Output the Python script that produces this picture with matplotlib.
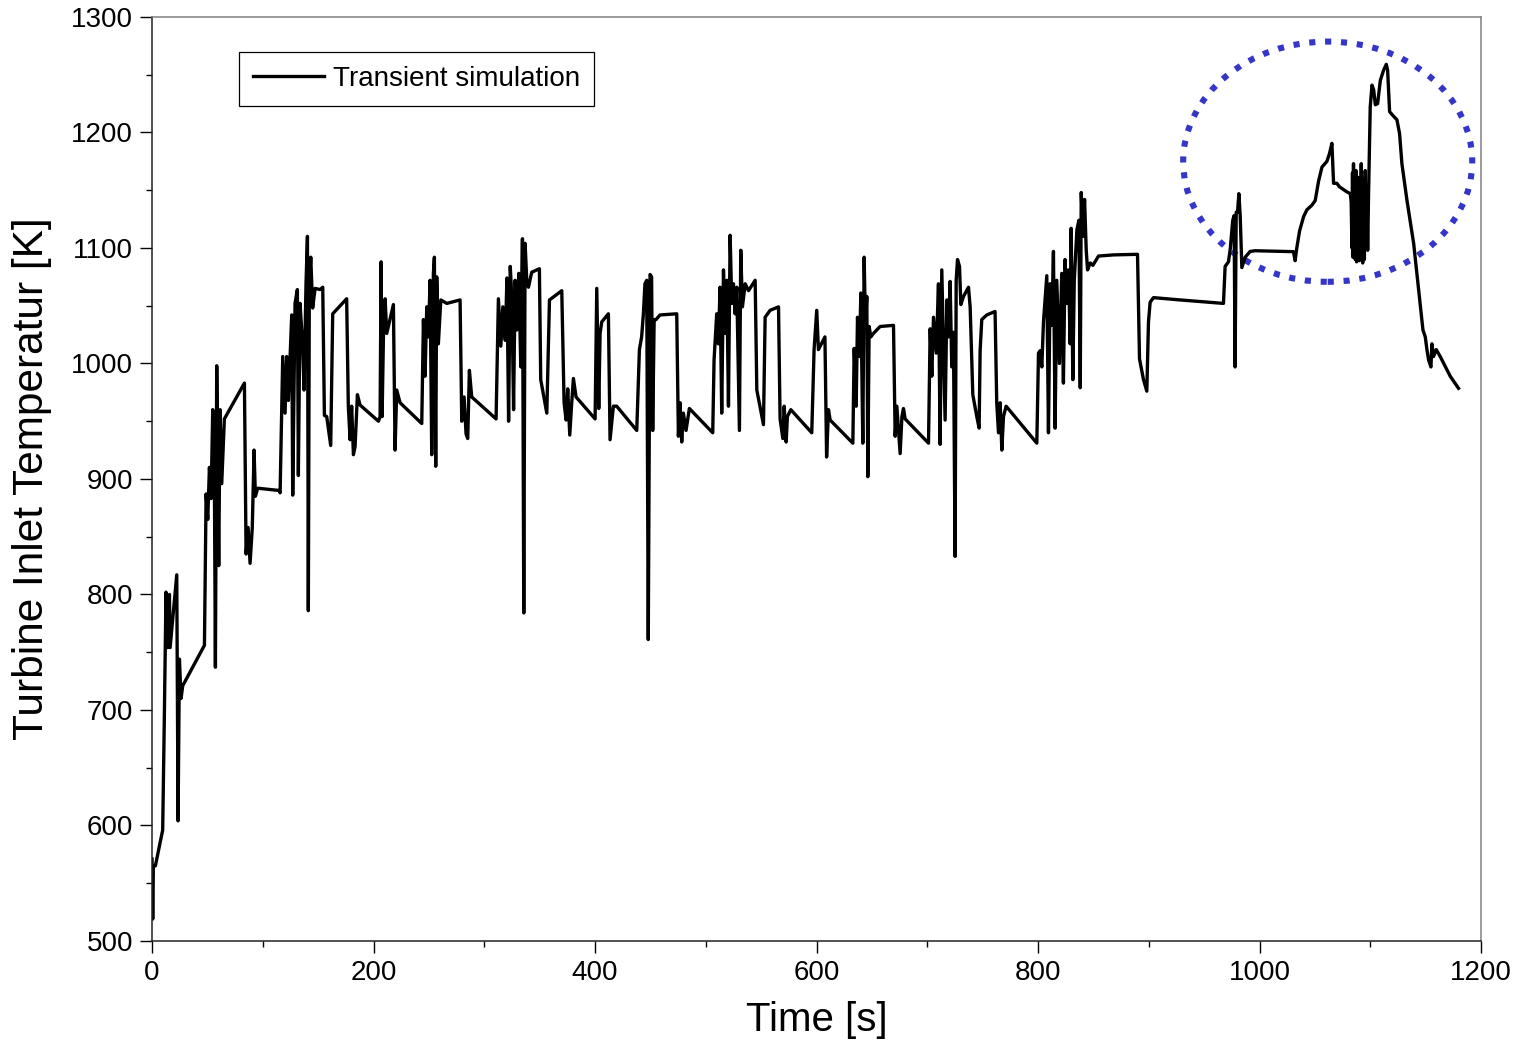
import matplotlib
matplotlib.use("Agg")
import matplotlib.pyplot as plt
from matplotlib.patches import Ellipse

plt.rcParams['font.family'] = ['Liberation Sans', 'DejaVu Sans']

# time [s] / turbine inlet temperature [K]
time_s = [
    0, 0.6, 1.2, 3, 9.6, 11, 12.6, 14, 15.7, 16.3, 22.3, 23.5, 24.7, 26.2, 27.7,
    47.3, 48.8, 50.3, 51.8, 53.3, 54.8, 56.3, 57.2, 58.4, 60.2, 61.4, 62.9, 65.3,
    83.4, 84.9, 86.7, 88.5, 90.5, 92.1, 93.3, 95.4, 115,
    115.6, 118, 120.1, 121.6, 123.1, 126.1, 127, 129.1, 131.2, 132.1, 133.6, 136,
    137.2, 139, 140.3, 141.1, 142, 143.3, 145, 147.2, 151.7, 154.1, 155.6, 157.7,
    161.3, 163.1, 175.7, 177.2, 178.8, 180.2, 181.8, 183.3, 185.4, 187.8, 204.4,
    205.9, 206.8, 207.7, 208.9, 210.4, 211.9, 217.9, 219.4, 220.9, 223.9, 243.5,
    245, 246.5, 248, 249.5, 251, 252.5, 254, 254.9, 256.1, 257, 258.5, 260.7,
    266.1, 278.1, 279.6, 281.7, 283.5, 285, 286.5, 288.6, 310.6, 312.7, 314.9,
    316.7, 318.9, 320.4, 321.9, 323.4, 324.9, 326.4, 327.8, 329.3, 331.1, 332.9,
    334.4, 335.6, 336.8, 338.3, 339.8,
    342.8, 349.7, 350.9, 356.4, 358.8, 369.9, 372, 373.8, 375.3, 377.1, 378.9,
    380.4, 382.8, 400, 401.5, 403.3, 404.5, 406, 412, 413.5, 416.5, 419.5, 437.6,
    440, 442, 443.6, 445, 446.6, 448, 449.6, 451, 452, 453.3, 455, 458.6, 473.7,
    475.2, 476.7, 478.2, 479.7, 482.1, 485.1, 506.2, 507.4, 509.8, 511.3, 512.8,
    514.3, 515.9, 517.4, 518.9, 520.4, 521.9, 523.4, 524.9, 526.4, 527.9, 530.3,
    531.5, 533, 535.5, 538.5,
    544.5, 546, 552, 553.5, 558, 565.6, 567, 569.5, 570.7, 572.5, 573.6, 576.7,
    595.6, 597.7, 600.1, 601.6, 607.5, 609, 610.7, 612.2, 632.7, 633.9, 635.7,
    636.9, 638.7, 639.9, 641.7, 642.9, 644.1, 645.3, 646.2, 647.4, 648.9, 651.3,
    657.3, 669.4, 670.9, 672.4, 673.9, 675.4, 677, 678.4, 679.9, 701,
    702.5, 704, 705.5, 708, 710, 711.5, 713, 714.5, 716, 717.6, 719, 720.5, 722,
    723.5, 725, 726, 727.2, 729, 730.2, 732.6, 737.1, 738.6, 741, 744.6, 746.7,
    747.6, 749.1, 753.6, 761.1, 762.6, 764.2, 765.7, 767.2, 768.7, 771.1, 798.8,
    800.3, 801.8, 803.3, 804.8, 807.8, 809.3, 810.8, 812.3, 813.8, 815.3, 816.8,
    819.2, 821.3, 822.8, 824.3, 825.8, 827.4, 828.9, 829.8, 831.3, 832.6, 835,
    836.8, 838, 838.9, 840.4, 841.9, 843.4, 844.6, 847, 849.4, 854.5, 868, 889.7,
    891.5, 895.1, 898.1, 899.6, 901.1, 904.1, 928.2,
    967.3, 968.8, 971.8, 973.3, 975.7, 976.9, 977.8, 978.8, 980, 981.2, 982.4,
    983.9, 986.9, 991.4, 995.9, 1030.5, 1032, 1033.5, 1036, 1039.6, 1042.6,
    1047.1, 1050.1, 1053.2, 1056.2, 1060.7, 1063.1, 1065.2, 1066.7, 1069.7,
    1072, 1075, 1078, 1081.8, 1082.6, 1083.3, 1083.8, 1084.2, 1084.7, 1085.1,
    1085.7, 1086.3, 1086.9, 1087.5, 1088.1, 1088.7, 1089.3, 1089.9, 1090.5,
    1091.1, 1091.7, 1092.3, 1093, 1093.8, 1094.5, 1095.3, 1096, 1096.8, 1097.5,
    1098.3, 1099.8, 1101.4, 1102.9, 1104.4,
    1106.5, 1108.9, 1111.9, 1114.3, 1115.5, 1117.3, 1120.9, 1123.9, 1126.3,
    1128.4, 1133, 1139, 1143.5, 1147.4, 1149.5, 1151, 1152.5, 1154.6, 1155.5,
    1157, 1159.4, 1163, 1172, 1179.5,
]
tit_K = [
    571, 519, 565, 565, 596, 687, 802, 754, 800, 754, 817, 604, 744, 710, 721,
    756, 887, 865, 910, 883, 960, 896, 737, 998, 825, 960, 896, 952,
    983, 835, 858, 827, 858, 925, 885, 892, 890,
    888, 1006, 957, 1006, 968, 1042, 886, 1052, 1064, 903, 1052, 1015,
    977, 1069, 1110, 786, 1069, 1092, 1048, 1065, 1064, 1066, 955, 954,
    929, 1043, 1056, 963, 934, 963, 921, 928, 973, 964, 950,
    954, 1088, 954, 1023, 1056, 1026, 1051, 925, 977, 966, 948,
    1038, 989, 1049, 1023, 1072, 921, 1078, 1092, 911, 1075, 1017, 1055,
    1052, 1055, 950, 971, 939, 935, 994, 971, 952, 1056, 1015,
    1049, 1020, 1074, 950, 1084, 1055, 960, 1072, 1029, 1078, 997,
    1108, 784, 1104, 1072, 1066,
    1079, 1082, 986, 957, 1055, 1063, 966, 951, 978, 938, 966,
    987, 971, 952, 1065, 961, 1026, 1036, 1043, 934, 963, 963, 942,
    1012, 1023, 1043, 1069, 1072, 761, 1077, 1075, 942, 1038, 1038, 1042, 1043,
    937, 966, 932, 957, 942, 961, 940, 1003, 1043, 1017, 1066,
    957, 1081, 1026, 1072, 963, 1111, 1052, 1069, 1043, 1066, 942,
    1098, 1049, 1069, 1063,
    1072, 977, 947, 1040, 1046, 1049, 952, 935, 963, 932, 954, 960,
    940, 1012, 1046, 1012, 1023, 919, 960, 951, 931, 1013, 963,
    1040, 1006, 1061, 931, 1092, 1032, 1058, 902, 1032, 1023, 1026,
    1032, 1033, 937, 963, 942, 922, 954, 961, 952, 931,
    1030, 989, 1040, 1009, 1069, 930, 1081, 1017, 951, 1055, 1023, 1071, 997,
    1027, 833, 1072, 1090, 1084, 1051, 1058, 1066, 1049, 973, 954, 944,
    1011, 1038, 1042, 1045, 966, 940, 966, 925, 954, 963, 931,
    1009, 1011, 997, 1036, 1076, 940, 1069, 1033, 1097, 944, 1072,
    1000, 1078, 983, 1090, 1052, 1081, 1017, 1117, 986, 1072, 1116,
    1124, 979, 1148, 1110, 1142, 1098, 1081, 1087, 1085, 1093, 1094, 1094.5,
    1004, 986, 976, 1036, 1053, 1057, 1055,
    1052, 1084, 1088, 1098, 1124, 1128, 997, 1131, 1131, 1147, 1128,
    1083, 1092, 1097, 1097.6, 1096.8, 1089, 1100, 1114.7, 1127, 1133,
    1137, 1141, 1158, 1170, 1175, 1182, 1190.6, 1156, 1156,
    1153, 1151, 1149, 1147, 1140, 1100, 1165, 1092, 1173, 1095,
    1160, 1090, 1167, 1088, 1150, 1092, 1161, 1089, 1155,
    1090, 1173, 1100, 1087, 1160, 1090, 1167, 1104, 1150, 1098,
    1147, 1222, 1241, 1237, 1224,
    1225, 1245, 1254, 1259, 1254, 1218, 1214, 1211, 1199,
    1173, 1141, 1104, 1064, 1029, 1023, 1012, 1003, 997, 1017,
    1006, 1012, 1006, 989, 978.5,
]

fig = plt.figure(figsize=(15.22, 10.41), dpi=100)
ax = fig.add_axes([0.0999, 0.0961, 0.8733, 0.8876])

line, = ax.plot(time_s, tit_K, color='black', lw=2.4, label='Transient simulation')

# dotted ellipse marking the high temperature region
ell = Ellipse((1061.4, 1174.7), 261, 208, fill=False, edgecolor='#3535C8',
              lw=4.4, linestyle=(0, (1, 1.6)))
ax.add_patch(ell)

ax.set_xlim(0, 1200)
ax.set_ylim(500, 1300)
ax.set_xticks(range(0, 1201, 200))
ax.set_xticks(range(100, 1200, 200), minor=True)
ax.set_yticks(range(500, 1301, 100))
ax.set_yticks(range(550, 1300, 100), minor=True)
ax.tick_params(which='major', direction='out', length=8.6, width=1.0,
               labelsize=20, pad=5, top=False, right=False)
ax.tick_params(which='minor', direction='out', length=4.3, width=1.0,
               top=False, right=False)

for s in ('left', 'bottom'):
    ax.spines[s].set_color('#222222')
    ax.spines[s].set_linewidth(1.1)
for s in ('top', 'right'):
    ax.spines[s].set_color('#808080')
    ax.spines[s].set_linewidth(1.1)

ax.set_xlabel('Time [s]', fontsize=29, labelpad=11)
ax.set_ylabel('Turbine Inlet Temperatur [K]', fontsize=30.5, labelpad=14)

leg = ax.legend(loc='upper left', bbox_to_anchor=(0.0655, 0.962), borderaxespad=0,
                fontsize=20, handlelength=2.55, handletextpad=0.33, borderpad=0.5,
                fancybox=False, framealpha=1, edgecolor='black')
leg.get_frame().set_linewidth(0.9)

fig.savefig('out.png', dpi=100)
